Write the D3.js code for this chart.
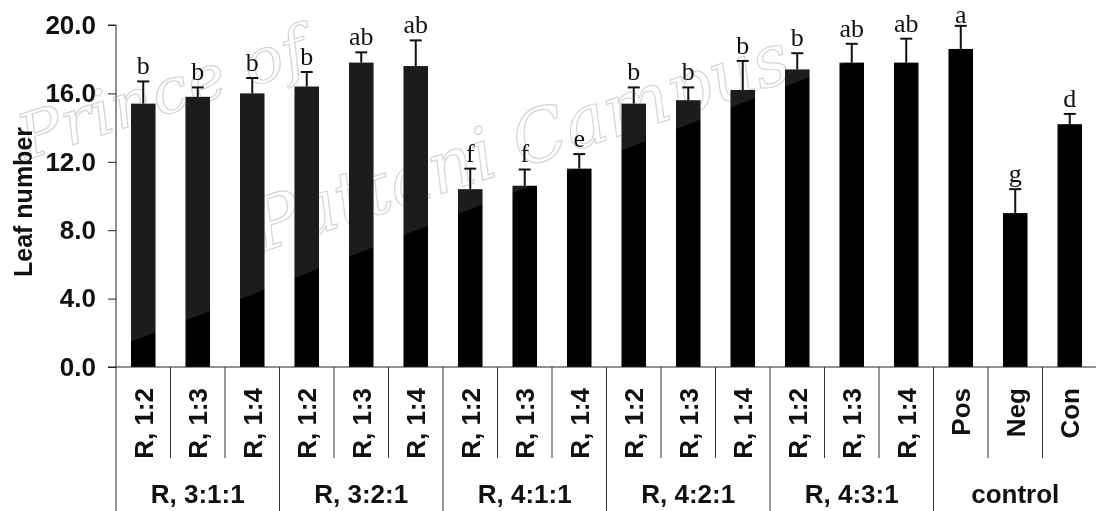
<!DOCTYPE html>
<html>
<head>
<meta charset="utf-8">
<script src="https://cdn.jsdelivr.net/npm/d3@7"></script>
<style>
  html, body { margin: 0; padding: 0; background: #fff; }
  svg { display: block; }
</style>
</head>
<body>
<svg id="chart" width="1096" height="511"></svg>
<script>
const categories = ["R, 1:2","R, 1:3","R, 1:4","R, 1:2","R, 1:3","R, 1:4","R, 1:2","R, 1:3","R, 1:4",
                    "R, 1:2","R, 1:3","R, 1:4","R, 1:2","R, 1:3","R, 1:4","Pos","Neg","Con"];
const groups = ["R, 3:1:1","R, 3:2:1","R, 4:1:1","R, 4:2:1","R, 4:3:1","control"];
const groupSize = [3,3,3,3,3,3];
const means  = [15.4,15.8,16.0,16.4,17.8,17.6,10.4,10.6,11.6,15.4,15.6,16.2,17.4,17.8,17.8,18.6,9.0,14.2];
const errors = [1.3,0.55,0.9,0.85,0.6,1.5,1.2,0.95,0.85,0.95,0.75,1.7,0.95,1.1,1.4,1.35,1.4,0.6];
const letters = ["b","b","b","b","ab","ab","f","f","e","b","b","b","b","ab","ab","a","g","d"];
const yTicks = [0,4,8,12,16,20];
const yLabel = "Leaf number";
const watermark = ["Prince of", "Pattani Campus"];

(function () {
const svg = d3.select("#chart");
const mLeft = 116, mRight = 1097, mTop = 25, mBottom = 367;

const x = d3.scaleBand().domain(d3.range(categories.length)).range([mLeft, mRight])
  .paddingInner(0.55).paddingOuter(0.275);
const step = x.step();
const y = d3.scaleLinear().domain([0, 20]).range([mBottom, mTop]);

// bars
const idx = d3.range(categories.length);
svg.append("g").selectAll("rect").data(idx).join("rect")
  .attr("x", i => x(i)).attr("width", x.bandwidth())
  .attr("y", i => y(means[i])).attr("height", i => y(0) - y(means[i]))
  .attr("fill", "#000");

// lighter watermark band over the bars
svg.append("clipPath").attr("id", "band").append("polygon")
  .attr("points", [[0,0],[1096,0],[1096, 337 - 0.39*(1096-143)],[0, 337 + 0.39*143]].map(p => p.join(",")).join(" "));
svg.append("g").attr("clip-path", "url(#band)").selectAll("rect").data(idx).join("rect")
  .attr("x", i => x(i)).attr("width", x.bandwidth())
  .attr("y", i => y(means[i])).attr("height", i => y(0) - y(means[i]))
  .attr("fill", "#fff").attr("opacity", 0.11);

// error bars
const eb = svg.append("g").attr("stroke", "#111").attr("stroke-width", 2);
eb.selectAll("line.v").data(idx).join("line").attr("class", "v")
  .attr("x1", i => x(i) + x.bandwidth()/2).attr("x2", i => x(i) + x.bandwidth()/2)
  .attr("y1", i => y(means[i])).attr("y2", i => y(means[i] + errors[i]));
eb.selectAll("line.c").data(idx).join("line").attr("class", "c")
  .attr("x1", i => x(i) + x.bandwidth()/2 - 6).attr("x2", i => x(i) + x.bandwidth()/2 + 6)
  .attr("y1", i => y(means[i] + errors[i])).attr("y2", i => y(means[i] + errors[i]));

// significance letters
svg.append("g").selectAll("text").data(idx).join("text")
  .attr("x", i => x(i) + x.bandwidth()/2).attr("y", i => Math.max(y(means[i] + errors[i]) - 7, 23))
  .attr("text-anchor", "middle").attr("font-family", "Liberation Serif, Times New Roman, serif")
  .attr("font-size", 26).attr("fill", "#111").text(i => letters[i]);

// y axis
const yAxis = svg.append("g").attr("transform", `translate(${mLeft},0)`)
  .call(d3.axisLeft(y).tickValues(yTicks).tickFormat(d3.format(".1f")).tickSize(8).tickPadding(12));
yAxis.select(".domain").attr("stroke", "#222").attr("d", `M-8,${mTop}H0V${mBottom}`);
yAxis.selectAll(".tick line").attr("stroke", "#222");
yAxis.selectAll(".tick text").attr("font-family", "Liberation Sans, Arial, sans-serif")
  .attr("font-weight", "bold").attr("font-size", 26).attr("fill", "#111");

// x axis baseline
svg.append("line").attr("x1", mLeft - 8).attr("x2", mRight).attr("y1", mBottom).attr("y2", mBottom)
  .attr("stroke", "#222").attr("stroke-width", 1);

// separators
const groupStarts = [0];
groupSize.forEach((s, k) => groupStarts.push(groupStarts[k] + s));
const seps = d3.range(categories.length + 1);
svg.append("g").selectAll("line").data(seps).join("line")
  .attr("x1", i => mLeft + i*step).attr("x2", i => mLeft + i*step)
  .attr("y1", mBottom).attr("y2", i => groupStarts.includes(i) ? 511 : 458)
  .attr("stroke", "#333").attr("stroke-width", 1);

// category labels
svg.append("g").selectAll("text").data(idx).join("text")
  .attr("transform", i => `translate(${x(i) + x.bandwidth()/2 + 9.5},388) rotate(-90)`)
  .attr("text-anchor", "end").attr("font-family", "Liberation Sans, Arial, sans-serif")
  .attr("font-weight", "bold").attr("font-size", 26).attr("fill", "#111").text(i => categories[i]);

// group labels
svg.append("g").selectAll("text").data(groups).join("text")
  .attr("x", (g, k) => mLeft + (groupStarts[k] + groupSize[k]/2)*step).attr("y", 503)
  .attr("text-anchor", "middle").attr("font-family", "Liberation Sans, Arial, sans-serif")
  .attr("font-weight", "bold").attr("font-size", 26).attr("fill", "#111").text(g => g);

// y label
svg.append("text").attr("transform", "translate(32,202) rotate(-90)")
  .attr("text-anchor", "middle").attr("font-family", "Liberation Sans, Arial, sans-serif")
  .attr("font-weight", "bold").attr("font-size", 25).attr("fill", "#111").text(yLabel);

// watermark overlay (only visible over white areas)
const wm = svg.append("g").attr("fill", "none").attr("stroke", "#d4d4d4").attr("stroke-width", 1.2)
  .style("mix-blend-mode", "darken")
  .attr("font-family", "DejaVu Serif, serif").attr("font-style", "italic");
wm.append("text").attr("transform", "translate(26,160) rotate(-18)").attr("font-size", 62)
  .attr("textLength", 300).attr("lengthAdjust", "spacingAndGlyphs").text(watermark[0]);
wm.append("text").attr("transform", "translate(262,252) rotate(-18)").attr("font-size", 72)
  .attr("textLength", 560).attr("lengthAdjust", "spacingAndGlyphs").text(watermark[1]);
})();
</script>
</body>
</html>
